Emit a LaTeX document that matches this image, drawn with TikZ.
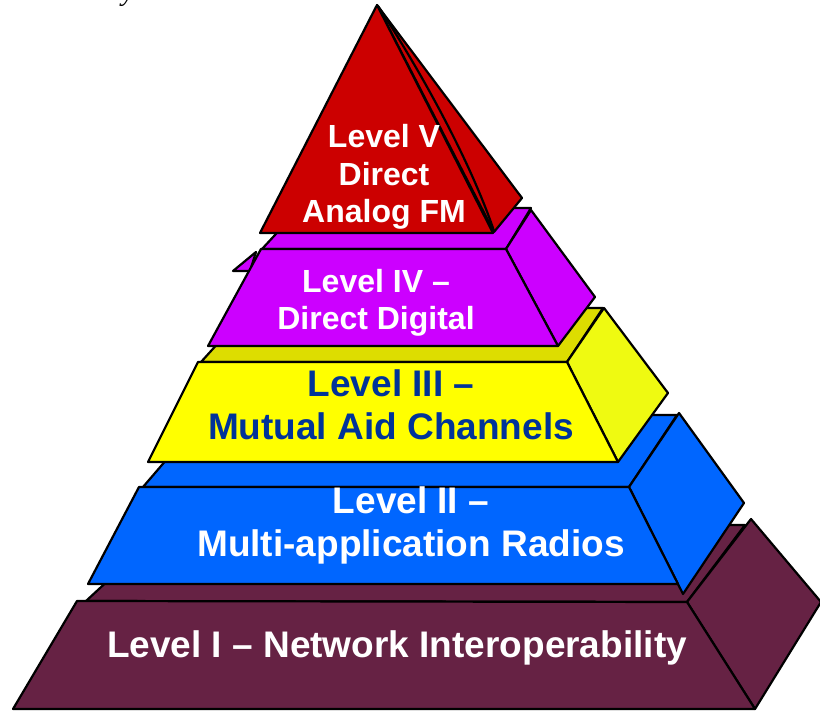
\documentclass[tikz,border=0pt]{standalone}
\usepackage{fontspec}
\setmainfont{Liberation Sans}
\newfontfamily\capserif{Liberation Serif}
\definecolor{lvred}{HTML}{CC0000}
\definecolor{lvmag}{HTML}{CC00FF}
\definecolor{lvyel}{HTML}{FFFF00}
\definecolor{lvyeltop}{HTML}{DDDD00}
\definecolor{lvyelside}{HTML}{EFFA11}
\definecolor{lvblue}{HTML}{0066FF}
\definecolor{lvmaroon}{HTML}{662244}
\definecolor{lvtextblue}{HTML}{003399}
\tikzset{
  face/.style={draw=black, line width=2.2pt, line join=round},
  bigtext/.style={anchor=base, inner sep=0pt, font=\bfseries\fontsize{37}{43}\selectfont},
  smalltext/.style={anchor=base, inner sep=0pt, font=\bfseries\fontsize{32}{37}\selectfont},
}
\begin{document}
\begin{tikzpicture}[x=1pt,y=-1pt]
\useasboundingbox (0,0) rectangle (820,711);
\clip (0,0) rectangle (820,711);
\fill[white] (0,0) rectangle (820,711);
% stray caption fragment
\node[anchor=base, inner sep=0pt, font=\capserif\itshape\fontsize{28}{30}\selectfont] (cap) at (128,1) {y};
% Level I
\filldraw[face, fill=lvmaroon] (86,601) -- (166,527) -- (745,525) -- (687,602) -- cycle;
\filldraw[face, fill=lvmaroon] (687,602) -- (751,519) -- (821,602) -- (755,709) -- cycle;
\filldraw[face, fill=lvmaroon] (77,601) -- (687,602) -- (755,709) -- (13,709) -- cycle;
% Level II
\filldraw[face, fill=lvblue] (143,487) -- (204,416) -- (677,415) -- (629,487) -- cycle;
\filldraw[face, fill=lvblue] (629,487) -- (679,413) -- (744,503) -- (683,594) -- cycle;
\filldraw[face, fill=lvblue] (139,487) -- (629,487) -- (678,584) -- (88,584) -- cycle;
% Level III
\filldraw[face, fill=lvyeltop] (201,362) -- (250,308) -- (603,308) -- (567,362) -- cycle;
\filldraw[face, fill=lvyelside] (567,362) -- (604,308) -- (668,393) -- (618,462) -- cycle;
\filldraw[face, fill=lvyel] (198,362) -- (567,362) -- (618,462) -- (148,462) -- cycle;
% Level IV
\filldraw[face, fill=lvmag] (256,252) -- (233,271) -- (250,271) -- cycle;
\filldraw[face, fill=lvmag] (262,249) -- (300,208) -- (531,208) -- (506,249) -- cycle;
\filldraw[face, fill=lvmag] (506,249) -- (531,210) -- (595,297) -- (558,346) -- cycle;
\filldraw[face, fill=lvmag] (261,249) -- (506,249) -- (558,346) -- (208,346) -- cycle;
% Level V
\filldraw[face, fill=lvred] (377,5) -- (522,198) -- (494,232) -- cycle;
\draw[face] (378,6) .. controls (420,70) and (470,160) .. (494,231);
\filldraw[face, fill=lvred] (377,5) -- (493,233) -- (260,233) -- cycle;
% texts
\node[smalltext, white] (t5a) at (384,148) {Level V};
\node[smalltext, white] (t5b) at (384,186) {Direct};
\node[smalltext, white] (t5c) at (384,223) {Analog FM};
\node[smalltext, white] (t4a) at (376,293) {Level IV –};
\node[smalltext, white] (t4b) at (376,330) {Direct Digital};
\node[bigtext, lvtextblue] (t3a) at (391,397) {Level III –};
\node[bigtext, lvtextblue] (t3b) at (391,440) {Mutual Aid Channels};
\node[bigtext, white] (t2a) at (411,513) {Level II –};
\node[bigtext, white] (t2b) at (411,556) {Multi-application Radios};
\node[bigtext, white] (t1) at (397,657) {Level I – Network Interoperability};
\end{tikzpicture}
\end{document}
